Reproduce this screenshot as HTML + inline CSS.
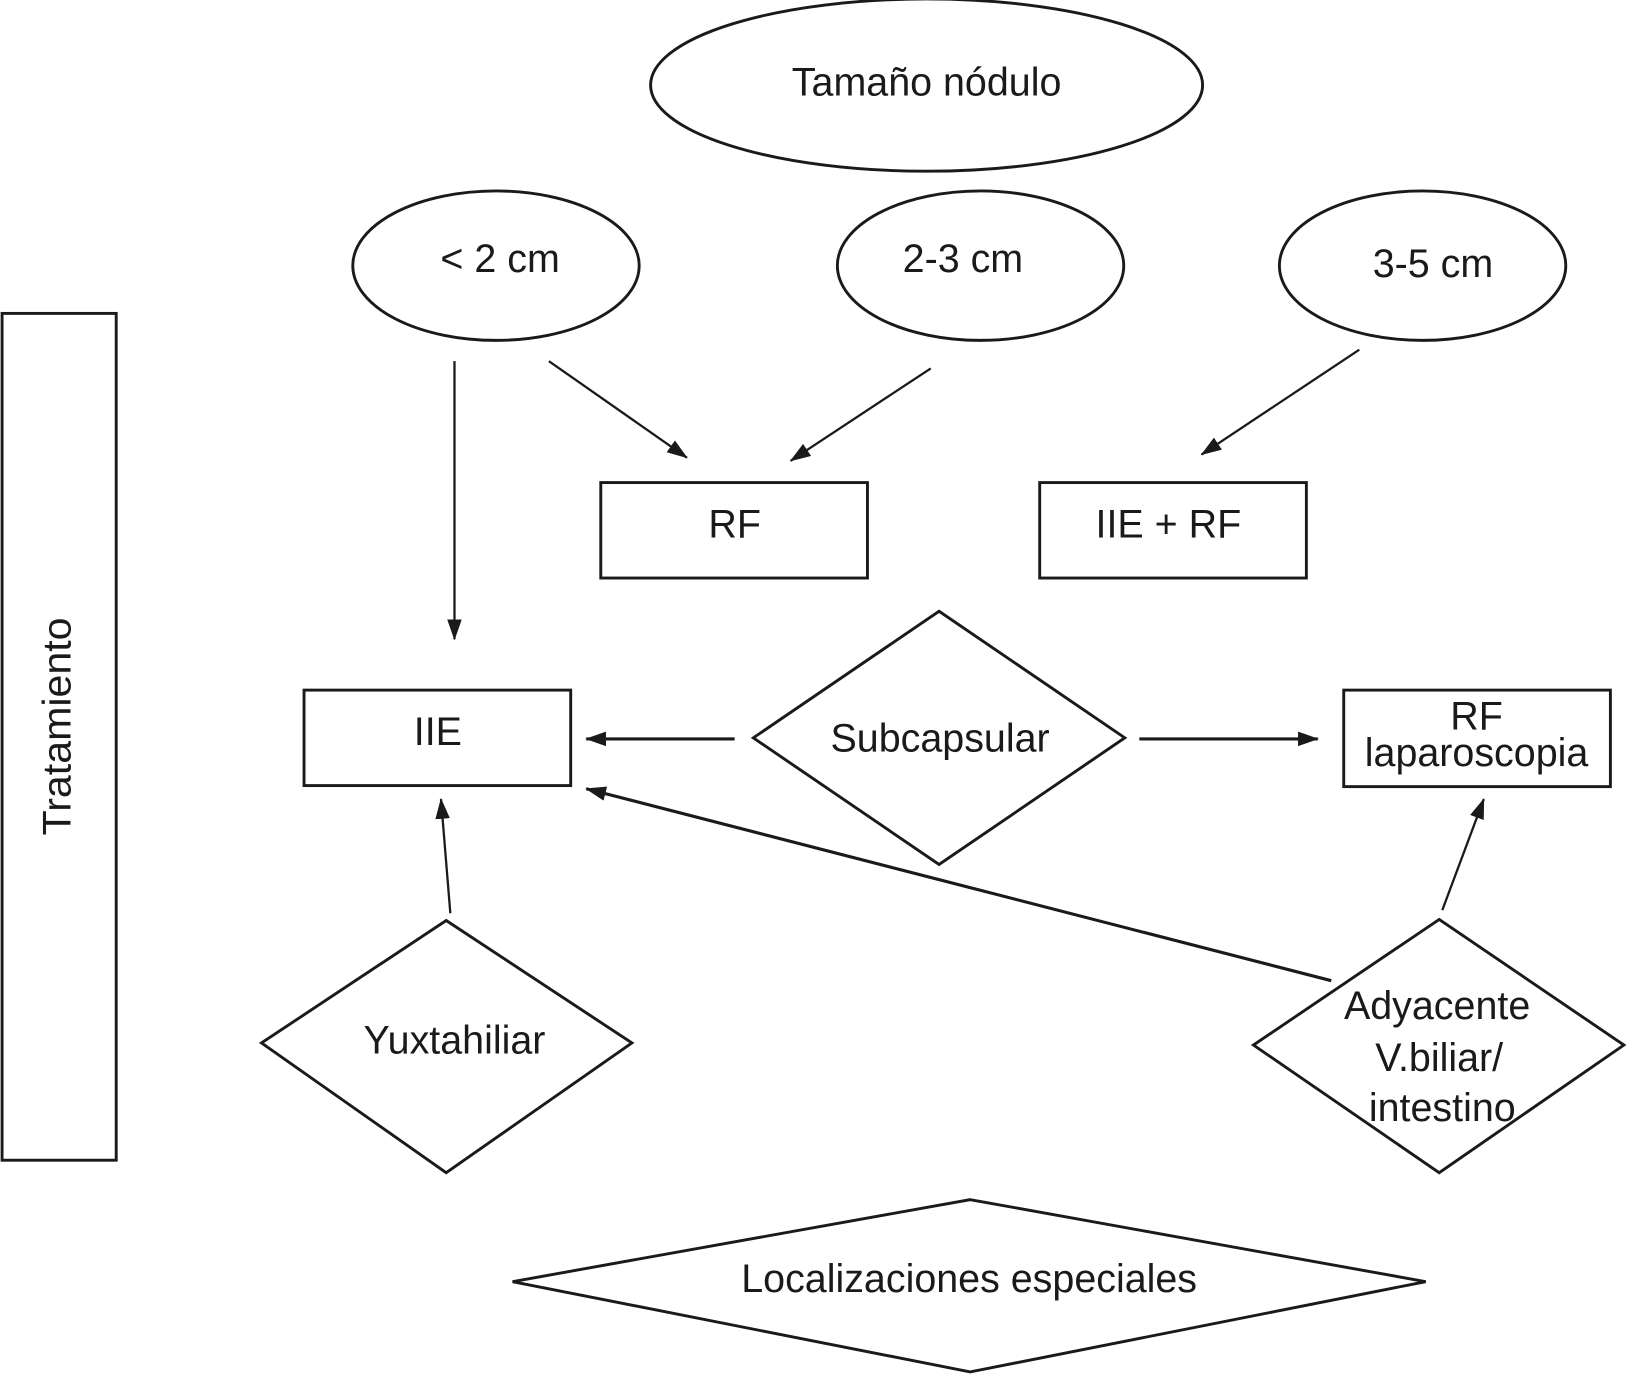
<!DOCTYPE html>
<html><head><meta charset="utf-8"><style>
html,body{margin:0;padding:0;background:#fff;}
svg{display:block;}
text{font-family:"Liberation Sans",Arial,sans-serif;font-size:38px;fill:#1a1a1a;}
</style></head><body>
<svg width="1627" height="1374" viewBox="0 0 1568 1324" preserveAspectRatio="none" xmlns="http://www.w3.org/2000/svg">
<defs>
<marker id="b" markerWidth="20" markerHeight="14" refX="19" refY="7" orient="auto" markerUnits="userSpaceOnUse" viewBox="0 0 20 14">
<path d="M0,0 L20,7 L0,14 z" fill="#1a1a1a"/></marker>
</defs>
<g fill="none" stroke="#1a1a1a" stroke-width="2.8">
<ellipse cx="893" cy="82" rx="266" ry="83"/>
<ellipse cx="478" cy="256" rx="138" ry="72"/>
<ellipse cx="945" cy="256" rx="138" ry="72"/>
<ellipse cx="1371" cy="256" rx="138" ry="72"/>
<rect x="2" y="302" width="110" height="816"/>
<rect x="579" y="465" width="257" height="92"/>
<rect x="1002" y="465" width="257" height="92"/>
<rect x="293" y="665" width="257" height="92"/>
<rect x="1295" y="665" width="257" height="93"/>
<polygon points="905,589 1084,711 905,833 726,711"/>
<polygon points="430,887 609,1005 430,1130 252,1005"/>
<polygon points="1387,886 1565,1007 1387,1130 1208,1007"/>
<polygon points="935,1156 1374,1235 935,1322 494,1235"/>
</g>
<g fill="none" stroke="#1a1a1a" stroke-width="2.2">
<line x1="438" y1="348" x2="438" y2="616" marker-end="url(#b)"/>
<line x1="529" y1="348" x2="662" y2="441" marker-end="url(#b)"/>
<line x1="897" y1="355" x2="762" y2="444" marker-end="url(#b)"/>
<line x1="1310" y1="337" x2="1158" y2="438" marker-end="url(#b)"/>
<line x1="434" y1="880" x2="425" y2="770" marker-end="url(#b)"/>
<line x1="1390" y1="877" x2="1430" y2="770" marker-end="url(#b)"/>
</g>
<g fill="none" stroke="#1a1a1a" stroke-width="3">
<line x1="708" y1="712" x2="565" y2="712" marker-end="url(#b)"/>
<line x1="1098" y1="712" x2="1270" y2="712" marker-end="url(#b)"/>
<line x1="1283" y1="945" x2="565" y2="760" marker-end="url(#b)"/>
</g>
<text x="893" y="92" text-anchor="middle">Tamaño nódulo</text>
<text x="482" y="262" text-anchor="middle">&lt; 2 cm</text>
<text x="928" y="262" text-anchor="middle">2-3 cm</text>
<text x="1381" y="267" text-anchor="middle">3-5 cm</text>
<text x="708" y="518" text-anchor="middle">RF</text>
<text x="1126" y="518" text-anchor="middle">IIE + RF</text>
<text x="422" y="718" text-anchor="middle">IIE</text>
<text x="906" y="724" text-anchor="middle">Subcapsular</text>
<text x="1423" y="703" text-anchor="middle">RF</text>
<text x="1423" y="738" text-anchor="middle">laparoscopia</text>
<text x="438" y="1015" text-anchor="middle">Yuxtahiliar</text>
<text x="1385" y="982" text-anchor="middle">Adyacente</text>
<text x="1387" y="1032" text-anchor="middle">V.biliar/</text>
<text x="1390" y="1080" text-anchor="middle">intestino</text>
<text x="934" y="1245" text-anchor="middle">Localizaciones especiales</text>
<text transform="translate(68,700) rotate(-90)" text-anchor="middle" textLength="210" lengthAdjust="spacingAndGlyphs">Tratamiento</text>
</svg>
</body></html>
